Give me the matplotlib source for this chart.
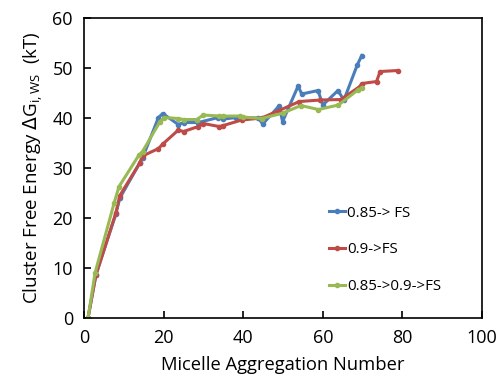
import matplotlib
matplotlib.use("Agg")
import matplotlib.pyplot as plt

plt.rcParams['font.family'] = ['Open Sans', 'DejaVu Sans']

blue_x = [1, 3, 8, 9, 14, 14.7, 18.7, 19.8, 23.7, 25, 28.7, 33.7, 35, 38.3, 43.8, 44.9, 49, 49.9, 53.8, 54.7, 58.8, 60, 63.8, 65.3, 68.7, 69.8]
blue_y = [0, 8.7, 20.8, 24, 31, 32, 40.1, 40.9, 38.7, 39.1, 39.1, 40.1, 39.8, 40.1, 40, 38.8, 42.4, 39.3, 46.4, 44.8, 45.5, 42.6, 45.5, 43.6, 50.7, 52.5]

red_x = [1, 3, 8, 9, 14, 14.7, 18.7, 19.8, 23.7, 25, 28.7, 30, 34, 35, 39.6, 44.6, 49, 54.1, 59.3, 64.5, 69.3, 69.8, 73.5, 74.4, 78.8]
red_y = [0, 8.6, 21, 24.5, 31, 32.4, 33.9, 34.8, 37.6, 37.3, 38.3, 38.9, 38.3, 38.5, 39.6, 40, 41.5, 43.3, 43.6, 43.7, 46.3, 46.9, 47.3, 49.3, 49.5]

green_x = [1, 2.8, 7.6, 8.8, 13.8, 14.7, 19.1, 20.2, 23.7, 25, 28.3, 30, 34, 35, 39.2, 40, 44.6, 50, 54.5, 58.9, 63.9, 68.8, 69.9]
green_y = [0, 9.1, 23.1, 26.3, 32.6, 33.3, 39.3, 40.1, 39.9, 39.7, 39.7, 40.6, 40.4, 40.4, 40.4, 40.2, 39.9, 41, 42.5, 41.7, 42.6, 45.6, 46.1]

labels = ['0.85-> FS', '0.9->FS', '0.85->0.9->FS']
colors = ['#4a7ebb', '#be4b48', '#98b954']

fig = plt.figure(figsize=(5, 3.87), dpi=100)
ax = fig.add_axes([0.168, 0.178, 0.796, 0.7755])

for xs, ys, c, lab in zip([blue_x, red_x, green_x], [blue_y, red_y, green_y], colors, labels):
    ax.plot(xs, ys, color=c, lw=2.2, marker='o', ms=3, label=lab)

ax.set_xlim(0, 100)
ax.set_ylim(0, 60)
ax.set_xticks([0, 20, 40, 60, 80, 100])
ax.set_yticks([0, 10, 20, 30, 40, 50, 60])
ax.tick_params(direction='in', length=5, width=1.2, labelsize=13, colors='black', pad=8)
ax.tick_params(axis='y', pad=8)
for s in ax.spines.values():
    s.set_linewidth(1.2)
ax.set_xlabel('Micelle Aggregation Number', fontsize=13.2, labelpad=6)
ax.set_ylabel(r'Cluster Free Energy $\Delta$G$_{\mathregular{i,WS}}$  (kT)', fontsize=13.5, labelpad=5)

leg = ax.legend(loc='lower left', bbox_to_anchor=(0.6, 0.06), frameon=False, fontsize=10.8,
                handlelength=1.1, handletextpad=0.1, labelspacing=1.45, borderaxespad=0)

fig.savefig('out.png', dpi=100)
